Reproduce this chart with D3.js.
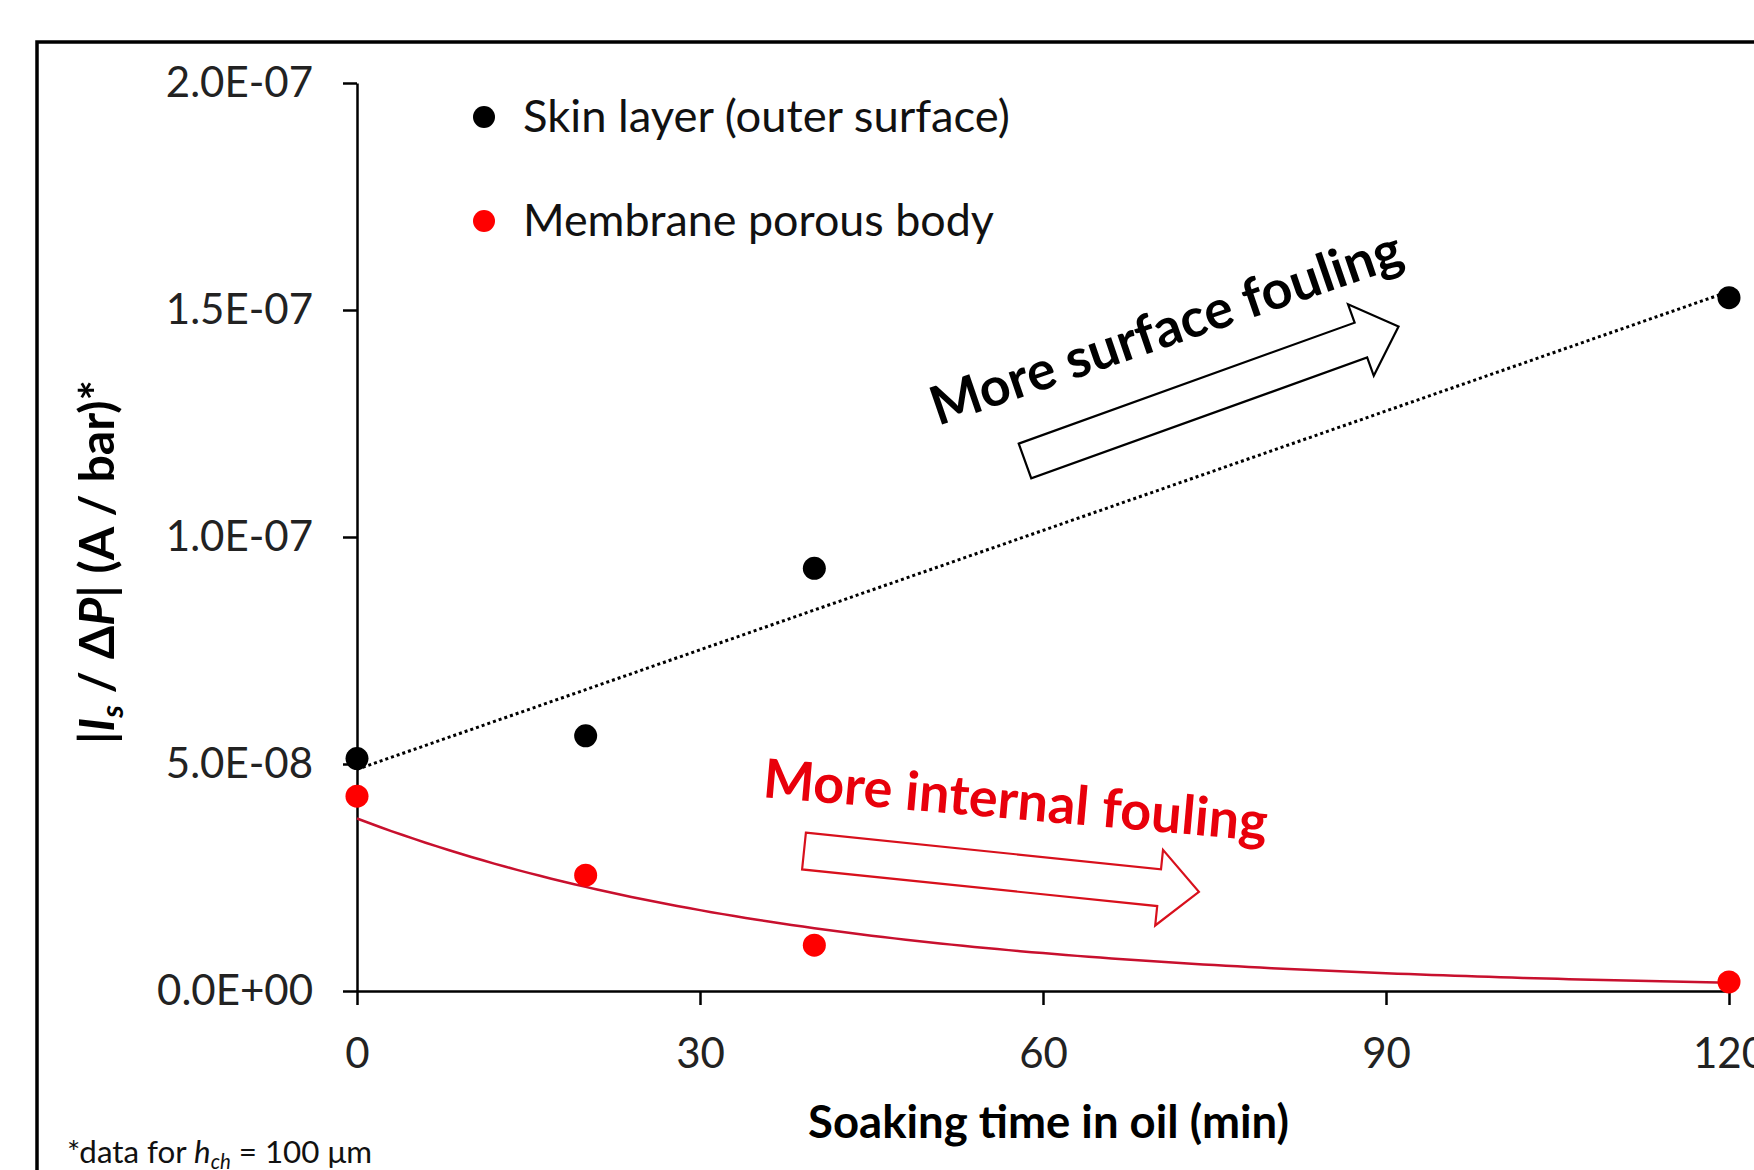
<!DOCTYPE html>
<html>
<head>
<meta charset="utf-8">
<script src="https://cdn.jsdelivr.net/npm/d3@7"></script>
<style>
  body { margin: 0; background: #fff; }
  text { font-family: Lato, "Open Sans", sans-serif; }
</style>
</head>
<body>
<svg id="chart" width="1754" height="1170"></svg>
<script>
// values
const soakTime = [0, 20, 40, 120];
const skinLayer = [5.12e-8, 5.62e-8, 9.31e-8, 1.527e-7];
const porousBody = [4.29e-8, 2.55e-8, 1.01e-8, 2.0e-9];

const xTicks = [0, 30, 60, 90, 120];
const yTicks = [0, 5e-8, 1e-7, 1.5e-7, 2e-7];

const seriesNames = ['Skin layer (outer surface)', 'Membrane porous body'];

const svg = d3.select('#chart');

const plotLeft = 357, plotRight = 1729, plotTop = 83, plotBottom = 991;
const red = '#ff0000';

const x = d3.scaleLinear().domain([0, 120]).range([plotLeft, plotRight]);
const y = d3.scaleLinear().domain([0, 2e-7]).range([plotBottom, plotTop]);

// excel style number format, e.g. 2.0E-07
const sci = d => {
    const [m, e] = d.toExponential(1).split('e');
    return m + 'E' + e[0] + e.slice(1).padStart(2, '0');
};

// scale a text's font size so it fills a given width
function fit(sel, w) {
    const fs = +sel.attr('font-size');
    sel.attr('font-size', fs * w / sel.node().getComputedTextLength());
    return sel;
}

// text built from pieces: {t, i: italic, sub: subscript}
function richText(sel, parts) {
    let shifted = false;
    parts.forEach(p => {
        const ts = sel.append('tspan').text(p.t);
        if (p.i) ts.attr('font-style', 'italic');
        if (p.sub) {
            ts.attr('font-size', '0.65em').attr('dy', '0.3em');
            shifted = true;
        } else if (shifted) {
            ts.attr('dy', '-0.195em');
            shifted = false;
        }
    });
    return sel;
}

// outer frame
svg.append('rect')
    .attr('x', 37).attr('y', 42)
    .attr('width', 1800).attr('height', 1300)
    .attr('fill', 'none')
    .attr('stroke', '#000')
    .attr('stroke-width', 3.5);

// axes
const yAxis = svg.append('g')
    .attr('transform', `translate(${plotLeft},0)`)
    .call(d3.axisLeft(y).tickValues(yTicks).tickFormat(sci).tickSize(14).tickSizeOuter(0).tickPadding(30));

const xAxis = svg.append('g')
    .attr('transform', `translate(0,${plotBottom})`)
    .call(d3.axisBottom(x).tickValues(xTicks).tickSize(14).tickSizeOuter(0).tickPadding(33));

[yAxis, xAxis].forEach(g => {
    g.selectAll('path, line').attr('stroke', '#000').attr('stroke-width', 2.5);
    g.selectAll('text')
        .attr('font-size', 42)
        .attr('fill', '#222')
        .style('font-family', 'Lato, "Open Sans", sans-serif');
});

// trendlines: linear for the skin layer, exponential for the porous body
const mx = d3.mean(soakTime);
const sxx = d3.sum(soakTime, t => (t - mx) ** 2);

const myS = d3.mean(skinLayer);
const slopeS = d3.sum(soakTime, (t, i) => (t - mx) * (skinLayer[i] - myS)) / sxx;
const interS = myS - slopeS * mx;

const logP = porousBody.map(Math.log);
const myP = d3.mean(logP);
const slopeP = d3.sum(soakTime, (t, i) => (t - mx) * (logP[i] - myP)) / sxx;
const aP = Math.exp(myP - slopeP * mx);

svg.append('line')
    .attr('x1', x(0)).attr('y1', y(interS))
    .attr('x2', x(120)).attr('y2', y(interS + slopeS * 120))
    .attr('stroke', '#000')
    .attr('stroke-width', 3)
    .attr('stroke-dasharray', '3 3');

const curve = d3.line()
    .x(t => x(t))
    .y(t => y(aP * Math.exp(slopeP * t)));

svg.append('path')
    .attr('d', curve(d3.range(0, 120.5, 1)))
    .attr('fill', 'none')
    .attr('stroke', '#c8102e')
    .attr('stroke-width', 2.5);

// points
svg.selectAll('circle.skin')
    .data(soakTime)
    .enter()
    .append('circle')
    .attr('class', 'skin')
    .attr('cx', d => x(d))
    .attr('cy', (d, i) => y(skinLayer[i]))
    .attr('r', 11.5)
    .attr('fill', '#000');

svg.selectAll('circle.body')
    .data(soakTime)
    .enter()
    .append('circle')
    .attr('class', 'body')
    .attr('cx', d => x(d))
    .attr('cy', (d, i) => y(porousBody[i]))
    .attr('r', 11.5)
    .attr('fill', red);

// legend
const legend = svg.append('g').attr('transform', 'translate(484,117)');
[['#000', 0, 487], [red, 104, 471]].forEach(([c, dy, w], i) => {
    legend.append('circle').attr('cx', 0).attr('cy', dy).attr('r', 11).attr('fill', c);
    const t = legend.append('text')
        .attr('x', 39).attr('y', dy + 15)
        .attr('font-size', 43)
        .attr('fill', '#111')
        .text(seriesNames[i]);
    fit(t, w);
});

// axis titles
fit(svg.append('text')
    .attr('x', (808 + 1289) / 2).attr('y', 1138)
    .attr('text-anchor', 'middle')
    .attr('font-size', 44)
    .attr('font-weight', 'bold')
    .text('Soaking time in oil (min)'), 481);

const yTitle = svg.append('text')
    .attr('transform', 'translate(114,562) rotate(-90)')
    .attr('text-anchor', 'middle')
    .attr('font-size', 44)
    .attr('font-weight', 'bold');
richText(yTitle, [
    { t: '|' }, { t: 'I', i: 1 }, { t: 's', i: 1, sub: 1 },
    { t: ' / Δ' }, { t: 'P', i: 1 }, { t: '| (A / bar)*' }
]);
fit(yTitle, 364);

// footnote
const note = svg.append('text')
    .attr('x', 67).attr('y', 1163)
    .attr('font-size', 28)
    .attr('fill', '#111');
richText(note, [
    { t: '*data for ' }, { t: 'h', i: 1 }, { t: 'ch', i: 1, sub: 1 }, { t: ' = 100 μm' }
]);
fit(note, 305);

// hollow block arrows
function blockArrow(cx, cy, angle, color) {
    const L = 397, w = 18.5, hw = 38, hl = 40;
    const pts = [[0, -w], [L - hl, -w], [L - hl, -hw], [L, 0], [L - hl, hw], [L - hl, w], [0, w]];
    svg.append('path')
        .attr('d', d3.line()(pts) + 'Z')
        .attr('transform', `translate(${cx},${cy}) rotate(${angle})`)
        .attr('fill', '#fff')
        .attr('stroke', color)
        .attr('stroke-width', 2.2)
        .attr('stroke-linejoin', 'miter');
}

blockArrow(1025, 461, -19.8, '#000');
blockArrow(804, 851, 5.9, '#d8101c');

// annotations
fit(svg.append('text')
    .attr('transform', 'translate(938,426) rotate(-19)')
    .attr('font-size', 52)
    .attr('font-weight', 'bold')
    .attr('fill', '#000')
    .text('More surface fouling'), 495);

fit(svg.append('text')
    .attr('transform', 'translate(762,797) rotate(5)')
    .attr('font-size', 52)
    .attr('font-weight', 'bold')
    .attr('fill', '#e8000b')
    .text('More internal fouling'), 506);
</script>
</body>
</html>
